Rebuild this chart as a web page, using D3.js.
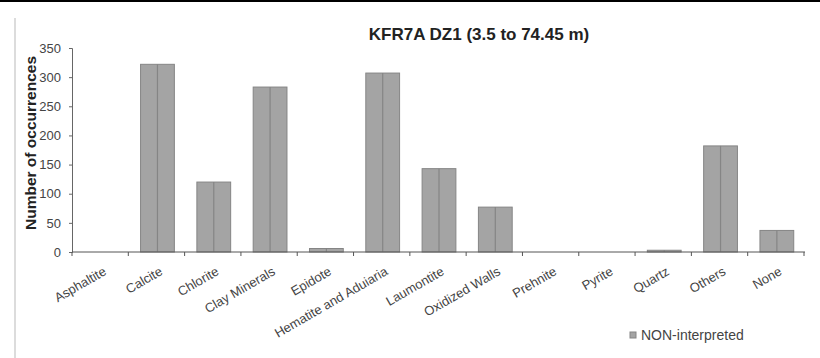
<!DOCTYPE html>
<html><head><meta charset="utf-8">
<script src="https://cdn.jsdelivr.net/npm/d3@7"></script>
<style>body{margin:0;background:#fff}svg{display:block;font-family:Arial,"Liberation Sans",sans-serif}</style>
</head><body>
<svg id="c" width="820" height="358"></svg>
<script>
const categories = ["Asphaltite","Calcite","Chlorite","Clay Minerals","Epidote","Hematite and Aduiaria","Laumontite","Oxidized Walls","Prehnite","Pyrite","Quartz","Others","None"];
const values = [0,322,120,283,6,307,143,77,0,0,3,182,37];
const yTicks = [0,50,100,150,200,250,300,350];
const title = "KFR7A DZ1 (3.5 to 74.45 m)";
const yTitle = "Number of occurrences";
const seriesName = "NON-interpreted";

const svg = d3.select("#c");
const W = 820, H = 358;
svg.append("rect").attr("x",0).attr("y",0).attr("width",W).attr("height",2).attr("fill","#000");
svg.append("line").attr("x1",15).attr("x2",15).attr("y1",18).attr("y2",H).attr("stroke","#d0d0d0").attr("stroke-width",1.5);

const x = d3.scaleBand().domain(categories).range([73,805]).paddingInner(0.4).paddingOuter(0.2);
const xb = d3.scaleBand().domain(categories).range([72,804]);
const y = d3.scaleLinear().domain([0,350]).range([252,48]);

// bars
const g = svg.append("g");
categories.forEach((c,i)=>{
  const v = values[i];
  if (v<=0) return;
  const x0 = x(c), w = x.bandwidth(), y0 = y(v), h = y(0)-y(v);
  g.append("rect").attr("x",x0).attr("y",y0).attr("width",w).attr("height",h)
    .attr("fill","#a4a4a4").attr("stroke","#858585").attr("stroke-width",1);
  g.append("line").attr("x1",x0+w/2).attr("x2",x0+w/2).attr("y1",y0).attr("y2",y(0))
    .attr("stroke","#858585").attr("stroke-width",1.2);
});

// y axis
const ya = svg.append("g").attr("transform","translate(72,0)")
  .call(d3.axisLeft(y).tickValues(yTicks).tickSize(3).tickPadding(8));
ya.select(".domain").attr("stroke","#666");
ya.selectAll(".tick line").attr("stroke","#666");
ya.selectAll("text").attr("font-size",13).attr("fill","#444");

// x axis
const xa = svg.append("g").attr("transform","translate(0,252)");
xa.append("line").attr("x1",72).attr("x2",805).attr("y1",0).attr("y2",0).attr("stroke","#555").attr("stroke-width",1);
const bounds = categories.map(c=>xb(c)).concat([xb(categories[categories.length-1])+xb.bandwidth()]);
bounds.forEach(b=>{
  xa.append("line").attr("x1",b).attr("x2",b).attr("y1",0).attr("y2",4).attr("stroke","#555");
});
categories.forEach(c=>{
  const cx = xb(c)+xb.bandwidth()/2;
  xa.append("text").attr("transform",`translate(${cx+7},${22}) rotate(-30)`)
    .attr("text-anchor","end").attr("font-size",13).attr("fill","#444").text(c);
});

// titles
svg.append("text").attr("x",479).attr("y",40).attr("text-anchor","middle")
  .attr("font-size",17).attr("font-weight","bold").attr("fill","#222").text(title);
svg.append("text").attr("transform","translate(36,143) rotate(-90)").attr("text-anchor","middle")
  .attr("font-size",15.5).attr("font-weight","bold").attr("fill","#222").text(yTitle);

// legend
svg.append("rect").attr("x",630).attr("y",332).attr("width",6).attr("height",6)
  .attr("fill","#a4a4a4").attr("stroke","#858585");
svg.append("text").attr("x",641).attr("y",340).attr("font-size",14).attr("fill","#444").text(seriesName);
</script>
</body></html>
